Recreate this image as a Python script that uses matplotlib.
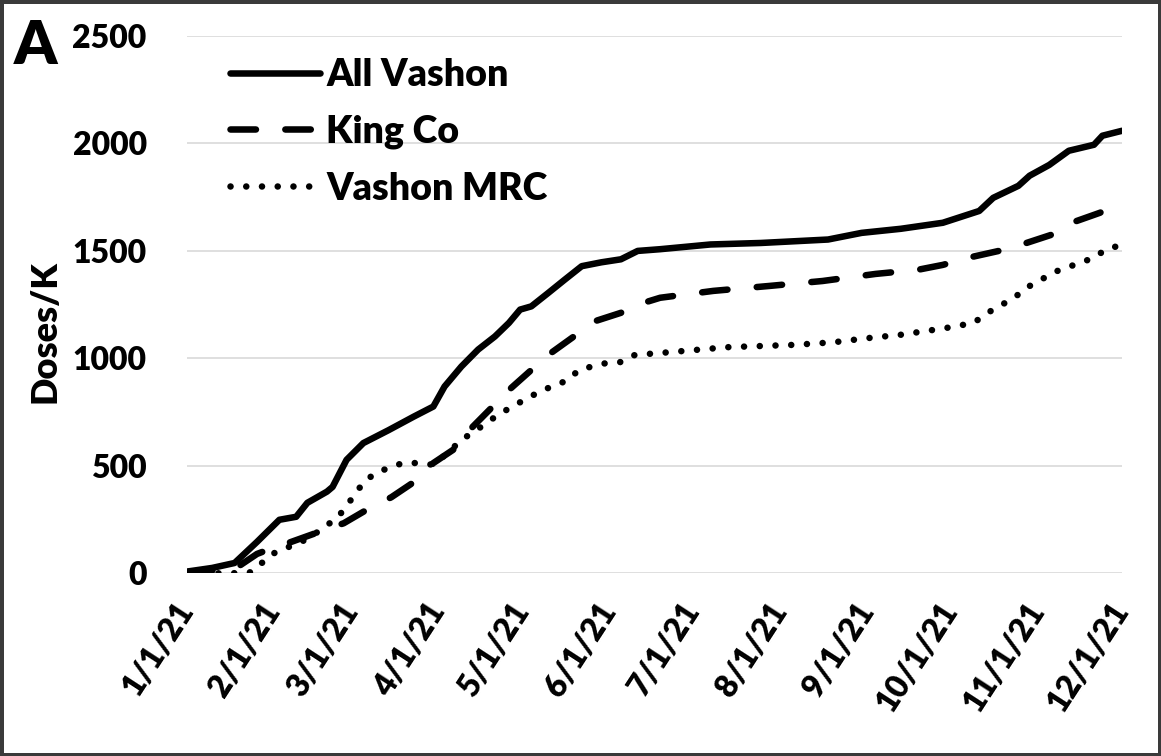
import matplotlib
matplotlib.use("Agg")
import matplotlib.pyplot as plt
import matplotlib.dates as mdates
import matplotlib.ticker as ticker
import pandas as pd

# All Vashon (solid)
all_dates = ["2021-01-01", "2021-01-10", "2021-01-18", "2021-01-26", "2021-02-03",
             "2021-02-09", "2021-02-13", "2021-02-20", "2021-02-22", "2021-02-27",
             "2021-03-05", "2021-03-14", "2021-03-23", "2021-03-30", "2021-04-03",
             "2021-04-09", "2021-04-15", "2021-04-21", "2021-04-26", "2021-04-30",
             "2021-05-04", "2021-05-10", "2021-05-16", "2021-05-22", "2021-05-29",
             "2021-06-05", "2021-06-11", "2021-06-19", "2021-07-07", "2021-07-25",
             "2021-08-18", "2021-08-30", "2021-09-13", "2021-09-28", "2021-10-11",
             "2021-10-16", "2021-10-25", "2021-10-29", "2021-11-05", "2021-11-12",
             "2021-11-21", "2021-11-24", "2021-12-01"]
all_vals = [8, 25, 48, 146, 249, 263, 328, 380, 402, 528,
            606, 666, 729, 776, 869, 962, 1041, 1102, 1165, 1227,
            1242, 1304, 1367, 1429, 1447, 1461, 1500, 1508, 1530, 1537,
            1553, 1584, 1603, 1631, 1686, 1747, 1803, 1850, 1900, 1966,
            1994, 2036, 2059]

# King Co (dashed)
king_dates = ["2021-01-01", "2021-01-18", "2021-01-26", "2021-02-03", "2021-02-07",
              "2021-02-16", "2021-02-26", "2021-03-06", "2021-03-15", "2021-03-23",
              "2021-03-30", "2021-04-06", "2021-04-13", "2021-04-19", "2021-04-26",
              "2021-05-04", "2021-05-11", "2021-05-19", "2021-05-26", "2021-06-05",
              "2021-06-13", "2021-06-19", "2021-07-08", "2021-07-28", "2021-08-16",
              "2021-09-04", "2021-09-19", "2021-09-28", "2021-10-07", "2021-10-18",
              "2021-10-26", "2021-11-06", "2021-11-13", "2021-11-23", "2021-12-01"]
king_vals = [5, 20, 90, 130, 145, 187, 233, 294, 354, 424,
             513, 574, 681, 760, 853, 946, 1025, 1100, 1170, 1212,
             1258, 1282, 1314, 1337, 1360, 1393, 1412, 1435, 1468, 1500,
             1529, 1576, 1631, 1677, 1720]

# Vashon MRC (dotted)
mrc_dates = ["2021-01-01", "2021-01-17", "2021-01-24", "2021-01-28", "2021-02-01",
             "2021-02-06", "2021-02-10", "2021-02-15", "2021-02-20", "2021-02-24",
             "2021-02-27", "2021-03-02", "2021-03-05", "2021-03-10", "2021-03-15",
             "2021-03-19", "2021-03-24", "2021-03-30", "2021-04-04", "2021-04-09",
             "2021-04-16", "2021-04-21", "2021-04-28", "2021-05-03", "2021-05-07",
             "2021-05-12", "2021-05-17", "2021-05-21", "2021-05-25", "2021-05-31",
             "2021-06-05", "2021-06-10", "2021-06-19", "2021-07-13", "2021-08-06",
             "2021-08-20", "2021-09-01", "2021-09-13", "2021-09-29", "2021-10-09",
             "2021-10-14", "2021-10-19", "2021-10-24", "2021-10-27", "2021-11-01",
             "2021-11-06", "2021-11-11", "2021-11-16", "2021-11-21", "2021-11-25",
             "2021-12-01"]
mrc_vals = [0, 0, 5, 51, 93, 121, 140, 177, 224, 261,
            317, 364, 425, 471, 494, 513, 513, 505, 559, 620,
            681, 727, 783, 815, 848, 871, 899, 946, 960, 979,
            983, 1016, 1025, 1052, 1063, 1075, 1094, 1110, 1141, 1165,
            1212, 1249, 1286, 1324, 1356, 1398, 1421, 1445, 1468, 1505,
            1529]

y_ticks = [0, 500, 1000, 1500, 2000, 2500]

FONT = "Lato"
FS = 23
WEIGHT = "heavy"

fig = plt.figure(figsize=(11.61, 7.56), dpi=100)
fig.patch.set_facecolor("white")
fig.patch.set_edgecolor("#3a3a3a")
fig.patch.set_linewidth(5)

ax = fig.add_axes([187 / 1161, 1 - 573.3 / 756, (1122 - 187) / 1161, (573.3 - 36) / 756])

lw = 4.7
ax.plot(pd.to_datetime(all_dates), all_vals, color="black", lw=lw,
        solid_capstyle="round", solid_joinstyle="round", label="All Vashon")
ax.plot(pd.to_datetime(king_dates), king_vals, color="black", lw=lw,
        dashes=(3.9, 4.5), dash_capstyle="round", label="King Co")
ax.plot(pd.to_datetime(mrc_dates), mrc_vals, color="black", lw=lw,
        dashes=(0.01, 2.4), dash_capstyle="round", label="Vashon MRC")

ax.set_xlim(pd.Timestamp("2021-01-01"), pd.Timestamp("2021-12-01"))
ax.set_ylim(0, 2500)
ax.set_yticks(y_ticks)
ax.yaxis.grid(True, color="#d9d9d9", lw=1.2)
ax.set_axisbelow(True)
for s in ax.spines.values():
    s.set_visible(False)

ax.xaxis.set_major_locator(mdates.MonthLocator())
ax.xaxis.set_major_formatter(ticker.FuncFormatter(
    lambda x, pos: "{d.month}/{d.day}/{y}".format(d=mdates.num2date(x), y=mdates.num2date(x).year % 100)))
ax.tick_params(axis="both", length=0)
ax.tick_params(axis="y", pad=29)
ax.tick_params(axis="x", pad=23)
for lab in ax.get_yticklabels():
    lab.set_fontfamily(FONT)
    lab.set_fontweight(WEIGHT)
    lab.set_fontsize(FS)
for lab in ax.get_xticklabels():
    lab.set_fontfamily(FONT)
    lab.set_fontweight(WEIGHT)
    lab.set_fontsize(FS)
    lab.set_rotation(57)
    lab.set_rotation_mode("anchor")
    lab.set_ha("right")
    lab.set_va("center")

fig.text(45 / 1161, 1 - 332 / 756, "Doses/K", rotation=90, ha="center", va="center",
         fontfamily=FONT, fontweight=WEIGHT, fontsize=26)
fig.text(14 / 1161, 1 - 64 / 756, "A", ha="left", va="baseline",
         fontfamily=FONT, fontweight=WEIGHT, fontsize=44)

ax.legend(loc="upper left", bbox_to_anchor=(230 / 1161, 1 - 58 / 756),
          bbox_transform=fig.transFigure, frameon=False, borderpad=0, borderaxespad=0,
          handlelength=2.4, handletextpad=0.16, labelspacing=0.6,
          prop={"family": FONT, "weight": WEIGHT, "size": 27})

fig.savefig("out.png", dpi=100, facecolor=fig.get_facecolor(), edgecolor=fig.get_edgecolor())
plt.close(fig)
